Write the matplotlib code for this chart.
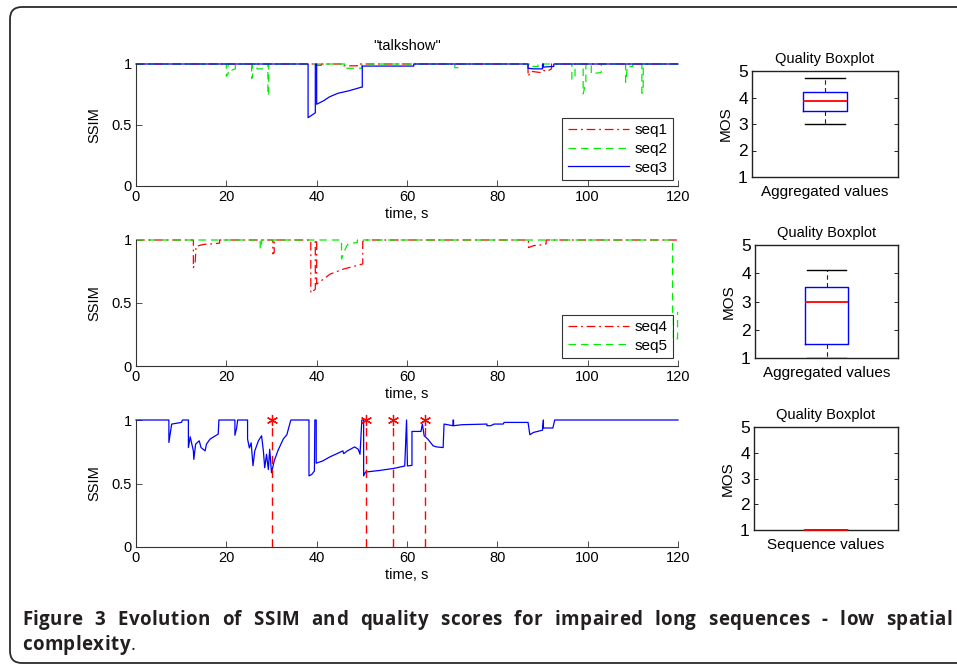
import matplotlib
matplotlib.use("Agg")
import matplotlib.pyplot as plt
from matplotlib.patches import FancyBboxPatch
from matplotlib.transforms import IdentityTransform

plt.rcParams['font.family'] = ['Liberation Sans', 'DejaVu Sans']

# ---------------- data ----------------
# Panel 1 ("talkshow") : seq1 (red), seq2 (green), seq3 (blue)
seq1_t = [0, 39.5, 39.5, 41, 41, 46, 46, 49, 49, 86.8, 86.8, 87.5, 88.5, 89.5, 90, 91, 92, 92, 120]
seq1_v = [1, 1, 0.99, 0.99, 1, 1, 0.985, 0.985, 1, 1, 0.90, 0.94, 0.935, 0.93, 0.95, 0.94, 0.96, 1, 1]

seq2_t = [0, 20.0, 20.0, 20.4, 20.4, 21.2, 21.2, 22.0, 22.0, 25.6, 25.6, 25.8, 25.8, 26.8, 26.8,
          28.4, 28.4, 29.2, 29.2, 29.4, 29.4, 46.2, 46.2, 50.0, 50.0, 70.6, 70.6, 71.5, 71.5,
          87.0, 87.0, 89.0, 89.0, 96.5, 96.5, 97.2, 97.2, 99.0, 99.0, 99.6, 99.6, 100.8, 100.8,
          103.0, 103.0, 108.4, 108.4, 108.8, 110.0, 110.0, 112.0, 112.0, 112.3, 112.3, 120]
seq2_v = [1, 1, 0.90, 0.92, 1, 1, 0.95, 0.96, 1, 1, 0.88, 0.90, 1, 1, 0.96,
          0.96, 1, 1, 0.74, 0.76, 1, 1, 0.965, 0.965, 1, 1, 0.97, 0.97, 1,
          1, 0.98, 0.98, 1, 1, 0.87, 0.90, 1, 1, 0.755, 0.85, 1, 1, 0.92,
          0.93, 1, 1, 0.85, 0.98, 0.98, 1, 1, 0.76, 0.78, 1, 1]

seq3_t = [0, 38.1, 38.1, 39.7, 39.7, 40.0, 40.0, 41.6, 42.8, 44.7, 47.1, 49.9, 50.1, 50.1,
          61.5, 61.5, 86.8, 86.8, 88.0, 90.0, 90.0, 90.2, 90.2, 92.5, 92.5, 120]
seq3_v = [1, 1, 0.56, 0.60, 1, 1, 0.67, 0.70, 0.73, 0.76, 0.78, 0.81, 0.81, 0.983,
          0.983, 1, 1, 0.965, 0.96, 0.96, 1, 1, 0.975, 0.98, 1, 1]

# Panel 2 : seq4 (red), seq5 (green)
seq4_t = [0, 12.7, 12.7, 13.1, 13.3, 15, 17, 18.5, 18.5, 30.3, 30.3, 30.6, 30.6, 38.7, 38.7,
          39.7, 39.7, 40.0, 40.0, 43, 46, 50.2, 50.2, 51, 51, 86.9, 86.9, 88, 89.5, 90.8, 90.8, 120]
seq4_v = [1, 1, 0.78, 0.82, 0.95, 0.965, 0.97, 0.975, 1, 1, 0.89, 0.90, 1, 1, 0.58,
          0.61, 1, 1, 0.65, 0.73, 0.77, 0.81, 0.99, 0.99, 1, 1, 0.94, 0.955, 0.96, 0.97, 1, 1]

seq5_t = [0, 27.5, 27.5, 27.8, 27.8, 45.5, 45.5, 46.0, 46.6, 47, 47, 49, 49, 118.8, 118.8,
          118.8, 119.9, 119.9]
seq5_v = [1, 1, 0.93, 0.95, 1, 1, 0.85, 0.90, 0.95, 0.97, 0.97, 0.98, 1, 1, 0.93,
          0.215, 0.215, 0.43]

# Panel 3 : single sequence (blue) and event markers (red)
seq_t = [0, 7.28, 7.28, 7.9, 10.05, 10.3, 10.3, 11.6, 11.6, 12.0, 12.7, 12.8, 13.2, 14.0, 14.4,
         15.3, 15.6, 16.4, 17.6, 18.2, 18.35, 21.9, 21.9, 22.3, 22.5, 24.7, 24.7, 25.1, 25.5,
         25.9, 26.3, 27.1, 27.8, 28.2, 28.5, 28.9, 29.3, 29.6, 30.0, 30.6, 31.4, 32.6, 33.4,
         34.2, 34.3, 38.3, 38.3, 38.9, 39.5, 39.6, 39.9, 39.9, 41.3, 42.9, 44.5, 45.8, 46.0,
         46.8, 48.4, 49.2, 49.6, 50.0, 50.4, 50.4, 50.8, 54.0, 57.1, 59.5, 59.9, 60.1, 61.1,
         61.1, 63.1, 63.4, 63.8, 64.6, 65.8, 66.6, 68.0, 68.2, 70.2, 70.2, 70.3, 70.3, 72.2,
         77.7, 77.7, 78.5, 79.3, 81.3, 81.5, 86.8, 87.2, 88.0, 90.0, 90.2, 90.2, 92.3, 92.7, 120]
seq_v = [1, 1, 0.823, 0.968, 0.981, 1, 1, 1, 0.783, 0.868, 0.757, 0.69, 0.81, 0.836, 0.783,
         0.757, 0.81, 0.85, 0.876, 0.889, 1, 1, 0.88, 0.94, 1, 1, 0.85, 0.78, 0.82,
         0.64, 0.757, 0.836, 0.876, 0.757, 0.624, 0.73, 0.61, 0.77, 0.585, 0.677, 0.757, 0.85, 0.884,
         0.99, 1, 1, 0.56, 0.571, 0.598, 1, 1, 0.66, 0.677, 0.709, 0.735, 0.757, 0.735,
         0.757, 0.788, 0.77, 0.73, 1, 1, 0.56, 0.59, 0.603, 0.619, 0.638, 1, 0.638, 0.643,
         0.91, 0.91, 0.968, 0.876, 0.85, 0.796, 0.788, 0.783, 0.968, 0.955, 1, 1, 0.955, 0.963,
         0.968, 0.955, 0.955, 0.968, 0.968, 0.981, 0.981, 0.884, 0.902, 0.92, 1, 0.937, 0.937, 1, 1]

event_t = [30, 51, 57, 64]

# Boxplot statistics (MOS)
box_labels = ["Aggregated values", "Aggregated values", "Sequence values"]
box_q1 = [3.5, 1.5, 1.0]
box_med = [3.88, 3.0, 1.0]
box_q3 = [4.2, 3.5, 1.0]
box_lo = [3.0, 1.0, 1.0]
box_hi = [4.75, 4.1, 1.0]

# ---------------- figure ----------------
W, H = 957, 664
fig = plt.figure(figsize=(W / 100, H / 100), dpi=100)


def rect(x0, y0, x1, y1):
    return [x0 / W, 1 - y1 / H, (x1 - x0) / W, (y1 - y0) / H]


RED, GREEN, BLUE = '#ff0000', '#00ee00', '#0000ff'
LW = 0.9
SPCOL = '#333333'
FS = 10.5


def style_ts(ax):
    ax.set_xlim(0, 120)
    ax.set_ylim(0, 1)
    ax.set_xticks([0, 20, 40, 60, 80, 100, 120])
    ax.set_yticks([0, 0.5, 1])
    ax.set_yticklabels(['0', '0.5', '1'])
    for s in ['top', 'right']:
        ax.spines[s].set_visible(False)
    for s in ['left', 'bottom']:
        ax.spines[s].set_color(SPCOL)
        ax.spines[s].set_linewidth(0.8)
    ax.tick_params(direction='in', length=4, width=0.6, color=SPCOL, labelsize=FS, pad=3)
    ax.set_xlabel('time, s', fontsize=FS, labelpad=2)
    ax.set_ylabel('SSIM', fontsize=FS, labelpad=7)


def add_legend(ax, anchor):
    lg = ax.legend(loc='lower right', bbox_to_anchor=anchor, borderaxespad=0, fontsize=11,
                   frameon=True, fancybox=False, edgecolor='black', handlelength=4.0,
                   labelspacing=0.3, borderpad=0.35, handletextpad=0.4)
    lg.get_frame().set_linewidth(0.8)


# Panel 1
ax1 = fig.add_axes(rect(136, 64, 678, 186))
ax1.plot(seq1_t, seq1_v, color=RED, lw=LW, dashes=(7, 3, 1.5, 3), clip_on=False, label='seq1')
ax1.plot(seq2_t, seq2_v, color=GREEN, lw=LW, dashes=(6, 4), clip_on=False, label='seq2')
ax1.plot(seq3_t, seq3_v, color=BLUE, lw=LW, clip_on=False, label='seq3')
style_ts(ax1)
ax1.set_title('"talkshow"', fontsize=FS, pad=10)
add_legend(ax1, (0.991, 0.05))

# Panel 2
ax2 = fig.add_axes(rect(136, 240, 678, 366))
ax2.plot(seq4_t, seq4_v, color=RED, lw=LW, dashes=(7, 3, 1.5, 3), clip_on=False, label='seq4')
ax2.plot(seq5_t, seq5_v, color=GREEN, lw=LW, dashes=(6, 4), clip_on=False, label='seq5')
style_ts(ax2)
add_legend(ax2, (0.991, 0.063))

# Panel 3
ax3 = fig.add_axes(rect(136, 420, 678, 547))
ax3.plot(seq_t, seq_v, color=BLUE, lw=LW, clip_on=False)
ax3.vlines(event_t, 0, 1, colors=RED, linestyles=(0, (6, 4)), lw=1.0)
ax3.plot(event_t, [1] * len(event_t), ls='none', marker=(6, 2, 0), ms=8, mew=0.9,
         color=RED, clip_on=False)
style_ts(ax3)

# Boxplots
box_rects = [(752, 71, 898, 177), (755, 245, 898, 358), (754, 427, 898, 530)]
for i, r in enumerate(box_rects):
    ax = fig.add_axes(rect(*r))
    stats = [dict(med=box_med[i], q1=box_q1[i], q3=box_q3[i], whislo=box_lo[i],
                  whishi=box_hi[i], fliers=[])]
    ax.bxp(stats, positions=[1], widths=0.3, showfliers=False,
           boxprops=dict(color=BLUE, lw=1.0),
           medianprops=dict(color=RED, lw=1.3, zorder=6, clip_on=False),
           whiskerprops=dict(color='#222222', lw=0.8, ls=(0, (4, 3))),
           capprops=dict(color='black', lw=1.0), capwidths=0.27)
    ax.set_xlim(0.5, 1.5)
    ax.set_ylim(1, 5)
    ax.set_xticks([])
    ax.set_yticks([1, 2, 3, 4, 5])
    ax.tick_params(axis='y', direction='in', length=3, width=0.6, right=True,
                   labelsize=12.5, pad=3)
    for s in ax.spines.values():
        s.set_linewidth(1.0)
        s.set_color('#222222')
    ax.set_title('Quality Boxplot', fontsize=FS, pad=6)
    ax.set_xlabel(box_labels[i], fontsize=11, labelpad=6)
    ax.set_ylabel('MOS', fontsize=11, labelpad=4)

# Outer rounded frame
frame = FancyBboxPatch((10, 1), 1000, 656, boxstyle='round,pad=0,rounding_size=12',
                       transform=IdentityTransform(), fill=False, ec='#2b2b2b', lw=1.3,
                       figure=fig)
fig.patches.append(frame)

# Caption: letter-spaced, first line justified
CAPCOL = '#231f20'
CFS = 13.5
CFAM = 'Open Sans'
renderer = fig.canvas.get_renderer()


def char_widths(word, weight='bold'):
    ws = []
    for ch in word:
        t = fig.text(0, 0, ch, fontsize=CFS, fontweight=weight, family=CFAM)
        ws.append(t.get_window_extent(renderer).width)
        t.remove()
    return ws


def draw_word(word, x, y, track, weight='bold'):
    ws = char_widths(word, weight)
    for ch, w in zip(word, ws):
        fig.text(x / W, 1 - y / H, ch, fontsize=CFS, fontweight=weight, family=CFAM,
                 color=CAPCOL, va='center', ha='left')
        x += w + track
    return x - track


words = ['Figure', '3', 'Evolution', 'of', 'SSIM', 'and', 'quality', 'scores', 'for', 'impaired',
         'long', 'sequences', '-', 'low', 'spatial']
x_left, x_right = 22, 952
y1_px, y2_px = 620, 645
TRACK = 0.4
word_w = [sum(char_widths(w)) + TRACK * (len(w) - 1) for w in words]
gap = (x_right - x_left - sum(word_w)) / (len(words) - 1)
x = x_left
for w, ww in zip(words, word_w):
    draw_word(w, x, y1_px, TRACK)
    x += ww + gap
xe = draw_word('complexity', x_left, y2_px, TRACK)
fig.text((xe + 1) / W, 1 - y2_px / H, '.', fontsize=CFS, family=CFAM,
         color=CAPCOL, va='center', ha='left')

fig.savefig('out.png', dpi=100)
